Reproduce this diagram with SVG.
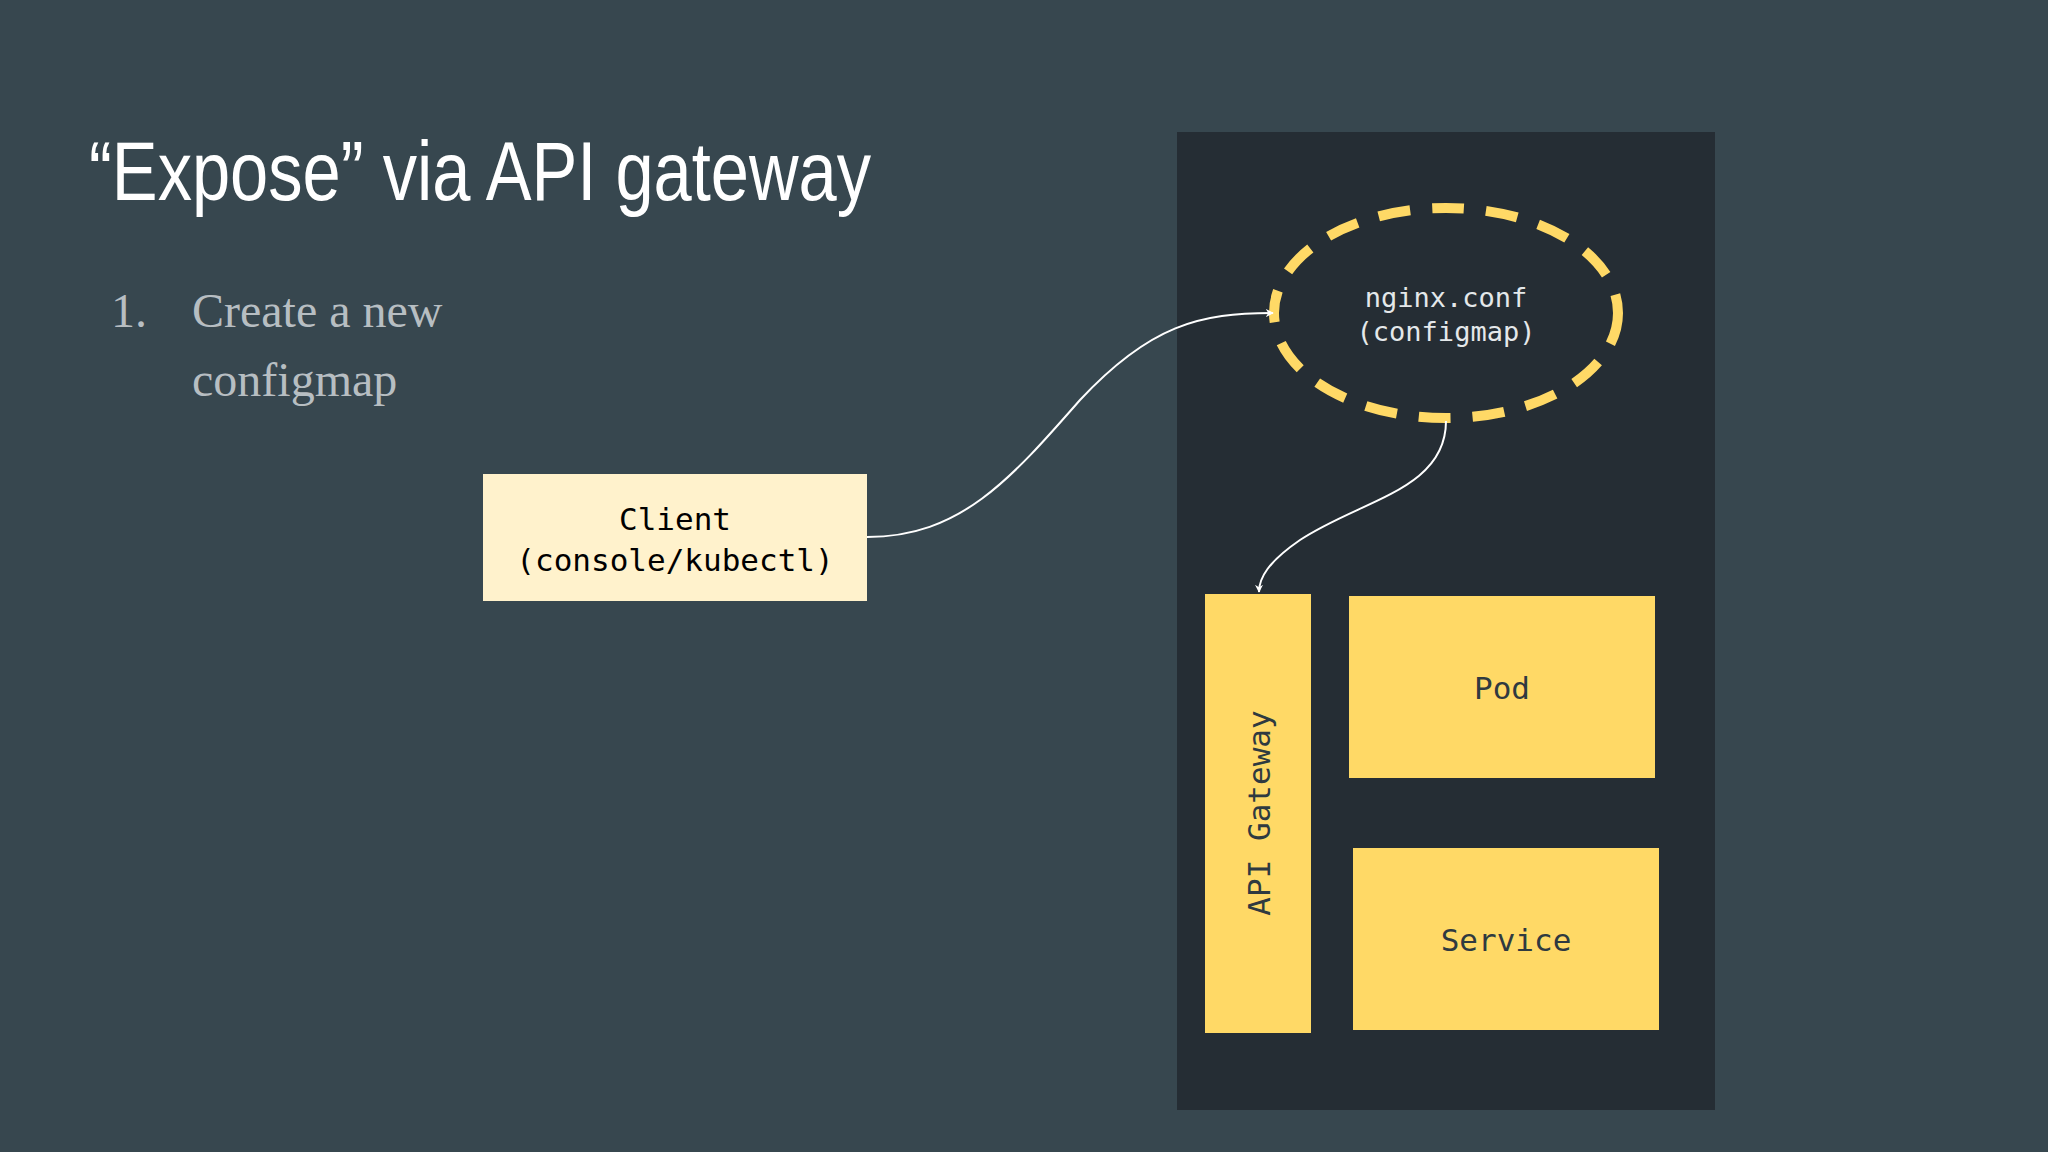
<svg xmlns="http://www.w3.org/2000/svg" width="2048" height="1152" viewBox="0 0 2048 1152">
<defs>
<style>
.mono{font-family:"DejaVu Sans Mono","Liberation Mono",monospace}
.box{fill:#ffd966}
.lbl{fill:#2f3a40;font-size:31px;text-anchor:middle}
.conn{fill:none;stroke:#ffffff;stroke-width:2}
</style>
<marker id="ah" viewBox="0 0 10 10" refX="9" refY="5" markerWidth="8" markerHeight="8" orient="auto-start-reverse" markerUnits="userSpaceOnUse"><path d="M0,0 L10,5 L0,10 L3,5 z" fill="#fff"/></marker>
</defs>
<rect width="2048" height="1152" fill="#37474f"/>
<text x="89" y="200" font-family="Liberation Sans Narrow, Liberation Sans, sans-serif" font-size="84" fill="#fff" textLength="782" lengthAdjust="spacingAndGlyphs">“Expose” via API gateway</text>
<g font-family="Liberation Serif, serif" font-size="48" fill="#b7bec2">
<text x="111" y="327">1.</text>
<text x="192" y="327">Create a new</text>
<text x="192" y="396">configmap</text>
</g>
<rect x="1177" y="132" width="538" height="978" fill="#252d34"/>
<g id="client"><rect x="483" y="474" width="384" height="127" fill="#fff2cc"/>
<text class="mono" x="675" y="530" font-size="31" text-anchor="middle" fill="#000">Client</text>
<text class="mono" x="675" y="571" font-size="31" text-anchor="middle" fill="#000">(console/kubectl)</text></g>
<g id="configmap"><ellipse cx="1446" cy="313" rx="172" ry="105" fill="none" stroke="#ffd966" stroke-width="10" stroke-dasharray="32 22"/>
<text class="mono" x="1446" y="307" font-size="27" text-anchor="middle" fill="#e4e8ea">nginx.conf</text>
<text class="mono" x="1446" y="341" font-size="27" text-anchor="middle" fill="#e4e8ea">(configmap)</text></g>
<g id="gateway"><rect class="box" x="1205" y="594" width="106" height="439"/>
<text class="mono lbl" transform="translate(1270,813) rotate(-90)">API Gateway</text></g>
<g id="pod"><rect class="box" x="1349" y="596" width="306" height="182"/>
<text class="mono lbl" x="1502" y="699">Pod</text></g>
<g id="service"><rect class="box" x="1353" y="848" width="306" height="182"/>
<text class="mono lbl" x="1506" y="951">Service</text></g>
<g id="connectors">
<path class="conn" marker-end="url(#ah)" d="M867,537 C960,537 1010,480 1080,400 C1150,325 1200,313 1273,313"/>
<path class="conn" marker-end="url(#ah)" d="M1446,421 C1446,490 1360,500 1300,540 C1268,562 1259,578 1259,592"/>
</g>
</svg>
